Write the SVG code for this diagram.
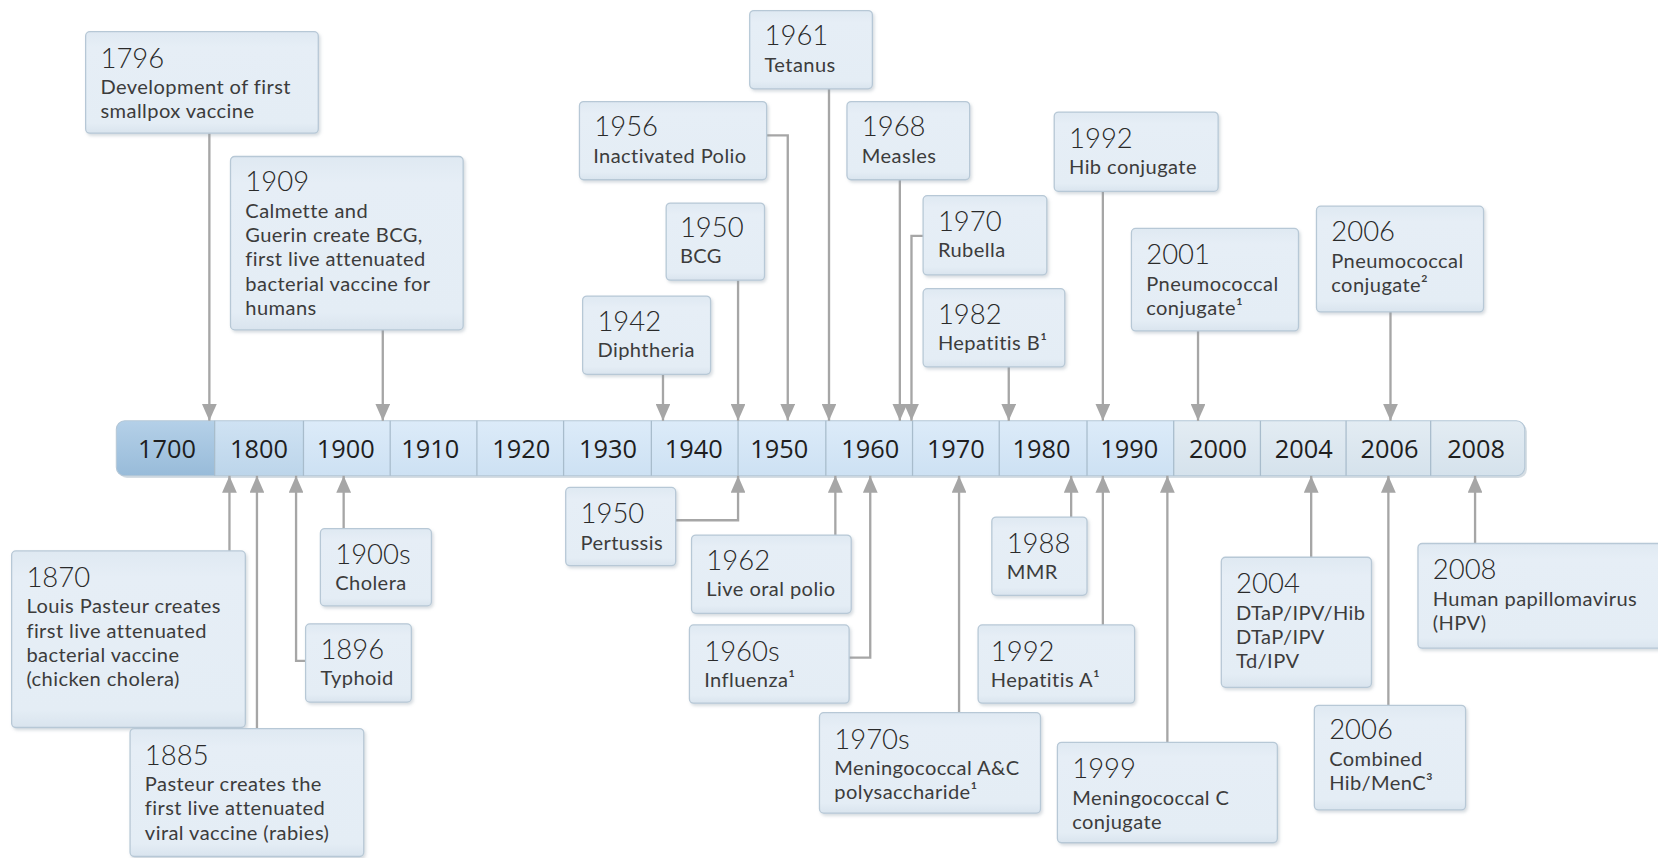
<svg xmlns="http://www.w3.org/2000/svg" width="1658" height="858" viewBox="0 0 1658 858">
<defs>
<style>
.box{fill:url(#boxg);stroke:#b7c8d6;stroke-width:1.2;filter:url(#sh)}
.yr{font-family:Lato,"Open Sans",sans-serif;font-size:26px;font-weight:300;fill:#2a2a2a}
.tx{font-family:Lato,"Open Sans",sans-serif;font-size:19px;letter-spacing:0.4px;fill:#3c3c3c}
.tl{font-family:"Open Sans","Noto Sans",sans-serif;font-size:24px;fill:#1e1e1e;text-anchor:middle}
.cn{fill:none;stroke:#a6a6a6;stroke-width:2.2}
.dn{marker-end:url(#ah)}
.dv{stroke:#a8bccc;stroke-width:1.2}
</style>
<linearGradient id="boxg" x1="0" y1="0" x2="0" y2="1">
<stop offset="0" stop-color="#dfe9f2"/><stop offset="0.15" stop-color="#e6eef6"/><stop offset="0.9" stop-color="#e4edf5"/><stop offset="1" stop-color="#d9e4ee"/>
</linearGradient>
<linearGradient id="b1" x1="0" y1="0" x2="0" y2="1"><stop offset="0" stop-color="#b4d0e8"/><stop offset="1" stop-color="#98bbd9"/></linearGradient>
<linearGradient id="b2" x1="0" y1="0" x2="0" y2="1"><stop offset="0" stop-color="#cfe2f3"/><stop offset="1" stop-color="#bcd5ea"/></linearGradient>
<linearGradient id="b3" x1="0" y1="0" x2="0" y2="1"><stop offset="0" stop-color="#dcebf9"/><stop offset="1" stop-color="#cde1f3"/></linearGradient>
<linearGradient id="b4" x1="0" y1="0" x2="0" y2="1"><stop offset="0" stop-color="#e3ecf3"/><stop offset="1" stop-color="#d5e2ec"/></linearGradient>
<filter id="sh" x="-10%" y="-10%" width="130%" height="140%">
<feDropShadow dx="1.5" dy="2" stdDeviation="1.5" flood-color="#8a9aa8" flood-opacity="0.35"/>
</filter>
<clipPath id="barclip"><rect x="110" y="398" width="1332" height="52" rx="8"/></clipPath>
<marker id="ah" viewBox="0 -7 16 14" refX="16" refY="0" markerWidth="16" markerHeight="14" markerUnits="userSpaceOnUse" orient="auto">
<path d="M0,-7 L16,0 L0,7 z" fill="#a6a6a6"/>
</marker>
</defs>
<rect width="1658" height="858" fill="#ffffff"/>
<g transform="scale(1.0574)">
<g id="timeline">
<rect x="112" y="400" width="1332" height="52" rx="8" fill="#b9c6d0" opacity="0.6"/>
<g clip-path="url(#barclip)">
<rect x="110" y="398" width="93" height="52" fill="url(#b1)"/>
<rect x="203" y="398" width="84" height="52" fill="url(#b2)"/>
<rect x="287" y="398" width="823" height="52" fill="url(#b3)"/>
<rect x="1110" y="398" width="332" height="52" fill="url(#b4)"/>
</g>
<rect x="110" y="398" width="1332" height="52" rx="8" fill="none" stroke="#b3c6d6" stroke-width="1"/>
<g class="dv">
<line x1="203" y1="398" x2="203" y2="450"/><line x1="287" y1="398" x2="287" y2="450"/><line x1="369" y1="398" x2="369" y2="450"/><line x1="451" y1="398" x2="451" y2="450"/><line x1="533" y1="398" x2="533" y2="450"/><line x1="616" y1="398" x2="616" y2="450"/><line x1="698" y1="398" x2="698" y2="450"/><line x1="781" y1="398" x2="781" y2="450"/><line x1="863" y1="398" x2="863" y2="450"/><line x1="945" y1="398" x2="945" y2="450"/><line x1="1028" y1="398" x2="1028" y2="450"/><line x1="1110" y1="398" x2="1110" y2="450"/><line x1="1192" y1="398" x2="1192" y2="450"/><line x1="1273" y1="398" x2="1273" y2="450"/><line x1="1353" y1="398" x2="1353" y2="450"/>
</g>
<text class="tl" x="158" y="433">1700</text><text class="tl" x="245" y="433">1800</text><text class="tl" x="327" y="433">1900</text><text class="tl" x="407" y="433">1910</text><text class="tl" x="493" y="433">1920</text><text class="tl" x="575" y="433">1930</text><text class="tl" x="656" y="433">1940</text><text class="tl" x="737" y="433">1950</text><text class="tl" x="823" y="433">1960</text><text class="tl" x="904" y="433">1970</text><text class="tl" x="985" y="433">1980</text><text class="tl" x="1068" y="433">1990</text><text class="tl" x="1152" y="433">2000</text><text class="tl" x="1233" y="433">2004</text><text class="tl" x="1314" y="433">2006</text><text class="tl" x="1396" y="433">2008</text>
</g>
<g id="connectors">
<path class="cn dn" d="M198 126 V398"/>
<path class="cn dn" d="M362 312 V398"/>
<path class="cn dn" d="M725 128 H745 V398"/>
<path class="cn dn" d="M698 265 V398"/>
<path class="cn dn" d="M627 354 V398"/>
<path class="cn dn" d="M784 84 V398"/>
<path class="cn dn" d="M851 170 V398"/>
<path class="cn dn" d="M873 223 H862 V398"/>
<path class="cn dn" d="M954 347 V398"/>
<path class="cn dn" d="M1043 181 V398"/>
<path class="cn dn" d="M1133 313 V398"/>
<path class="cn dn" d="M1315 295 V398"/>
<path class="cn dn" d="M217 521 V450"/>
<path class="cn dn" d="M243 689 V450"/>
<path class="cn dn" d="M325 500 V450"/>
<path class="cn dn" d="M289 625 H280 V450"/>
<path class="cn dn" d="M639 492 H698 V450"/>
<path class="cn dn" d="M790 506 V450"/>
<path class="cn dn" d="M803 622 H823 V450"/>
<path class="cn dn" d="M907 674 V450"/>
<path class="cn dn" d="M1013 489 V450"/>
<path class="cn dn" d="M1043 591 V450"/>
<path class="cn dn" d="M1104 702 V450"/>
<path class="cn dn" d="M1240 527 V450"/>
<path class="cn dn" d="M1313 667 V450"/>
<path class="cn dn" d="M1395 514 V450"/>
</g>
<g id="n1796"><rect class="box" x="81" y="30" width="220" height="96" rx="4"/><text class="yr" x="95" y="64">1796</text><text class="tx" x="95" y="89">Development of first</text><text class="tx" x="95" y="112">smallpox vaccine</text></g>
<g id="n1909"><rect class="box" x="218" y="148" width="220" height="164" rx="4"/><text class="yr" x="232" y="181">1909</text><text class="tx" x="232" y="206">Calmette and</text><text class="tx" x="232" y="229">Guerin create BCG,</text><text class="tx" x="232" y="252">first live attenuated</text><text class="tx" x="232" y="275">bacterial vaccine for</text><text class="tx" x="232" y="298">humans</text></g>
<g id="n1956"><rect class="box" x="548" y="96" width="177" height="74" rx="4"/><text class="yr" x="562" y="129">1956</text><text class="tx" x="561" y="154">Inactivated Polio</text></g>
<g id="n1950bcg"><rect class="box" x="630" y="192" width="93" height="73" rx="4"/><text class="yr" x="643" y="224">1950</text><text class="tx" x="643" y="249">BCG</text></g>
<g id="n1942"><rect class="box" x="551" y="280" width="121" height="74" rx="4"/><text class="yr" x="565" y="313">1942</text><text class="tx" x="565" y="338">Diphtheria</text></g>
<g id="n1961"><rect class="box" x="709" y="10" width="116" height="74" rx="4"/><text class="yr" x="723" y="43">1961</text><text class="tx" x="723" y="68">Tetanus</text></g>
<g id="n1968"><rect class="box" x="801" y="96" width="116" height="74" rx="4"/><text class="yr" x="815" y="129">1968</text><text class="tx" x="815" y="154">Measles</text></g>
<g id="n1970"><rect class="box" x="873" y="185" width="117" height="75" rx="4"/><text class="yr" x="887" y="218">1970</text><text class="tx" x="887" y="243">Rubella</text></g>
<g id="n1982"><rect class="box" x="873" y="273" width="134" height="74" rx="4"/><text class="yr" x="887" y="306">1982</text><text class="tx" x="887" y="331">Hepatitis B¹</text></g>
<g id="n1992hib"><rect class="box" x="997" y="106" width="155" height="75" rx="4"/><text class="yr" x="1011" y="140">1992</text><text class="tx" x="1011" y="165">Hib conjugate</text></g>
<g id="n2001"><rect class="box" x="1070" y="216" width="158" height="97" rx="4"/><text class="yr" x="1084" y="250">2001</text><text class="tx" x="1084" y="275">Pneumococcal</text><text class="tx" x="1084" y="298">conjugate¹</text></g>
<g id="n2006pn"><rect class="box" x="1245" y="195" width="158" height="100" rx="4"/><text class="yr" x="1259" y="228">2006</text><text class="tx" x="1259" y="253">Pneumococcal</text><text class="tx" x="1259" y="276">conjugate²</text></g>
<g id="n1870"><rect class="box" x="11" y="521" width="221" height="167" rx="4"/><text class="yr" x="25" y="555">1870</text><text class="tx" x="25" y="580">Louis Pasteur creates</text><text class="tx" x="25" y="603">first live attenuated</text><text class="tx" x="25" y="626">bacterial vaccine</text><text class="tx" x="25" y="649">(chicken cholera)</text></g>
<g id="n1885"><rect class="box" x="123" y="689" width="221" height="121" rx="4"/><text class="yr" x="137" y="723">1885</text><text class="tx" x="137" y="748">Pasteur creates the</text><text class="tx" x="137" y="771">first live attenuated</text><text class="tx" x="137" y="794">viral vaccine (rabies)</text></g>
<g id="n1900s"><rect class="box" x="303" y="500" width="105" height="73" rx="4"/><text class="yr" x="317" y="533">1900s</text><text class="tx" x="317" y="558">Cholera</text></g>
<g id="n1896"><rect class="box" x="289" y="590" width="100" height="74" rx="4"/><text class="yr" x="303" y="623">1896</text><text class="tx" x="303" y="648">Typhoid</text></g>
<g id="n1950per"><rect class="box" x="535" y="461" width="104" height="74" rx="4"/><text class="yr" x="549" y="495">1950</text><text class="tx" x="549" y="520">Pertussis</text></g>
<g id="n1962"><rect class="box" x="654" y="506" width="151" height="74" rx="4"/><text class="yr" x="668" y="539">1962</text><text class="tx" x="668" y="564">Live oral polio</text></g>
<g id="n1960s"><rect class="box" x="652" y="591" width="151" height="74" rx="4"/><text class="yr" x="666" y="625">1960s</text><text class="tx" x="666" y="650">Influenza¹</text></g>
<g id="n1970s"><rect class="box" x="775" y="674" width="209" height="95" rx="4"/><text class="yr" x="789" y="708">1970s</text><text class="tx" x="789" y="733">Meningococcal A&amp;C</text><text class="tx" x="789" y="756">polysaccharide¹</text></g>
<g id="n1988"><rect class="box" x="938" y="489" width="90" height="74" rx="4"/><text class="yr" x="952" y="523">1988</text><text class="tx" x="952" y="548">MMR</text></g>
<g id="n1992hepa"><rect class="box" x="925" y="591" width="148" height="74" rx="4"/><text class="yr" x="937" y="625">1992</text><text class="tx" x="937" y="650">Hepatitis A¹</text></g>
<g id="n1999"><rect class="box" x="1000" y="702" width="208" height="95" rx="4"/><text class="yr" x="1014" y="736">1999</text><text class="tx" x="1014" y="761">Meningococcal C</text><text class="tx" x="1014" y="784">conjugate</text></g>
<g id="n2004"><rect class="box" x="1155" y="527" width="142" height="123" rx="4"/><text class="yr" x="1169" y="561">2004</text><text class="tx" x="1169" y="586">DTaP/IPV/Hib</text><text class="tx" x="1169" y="609">DTaP/IPV</text><text class="tx" x="1169" y="632">Td/IPV</text></g>
<g id="n2006comb"><rect class="box" x="1243" y="667" width="143" height="99" rx="4"/><text class="yr" x="1257" y="699">2006</text><text class="tx" x="1257" y="724">Combined</text><text class="tx" x="1257" y="747">Hib/MenC³</text></g>
<g id="n2008"><rect class="box" x="1341" y="514" width="240" height="99" rx="4"/><text class="yr" x="1355" y="548">2008</text><text class="tx" x="1355" y="573">Human papillomavirus</text><text class="tx" x="1355" y="596">(HPV)</text></g>
</g>
</svg>
